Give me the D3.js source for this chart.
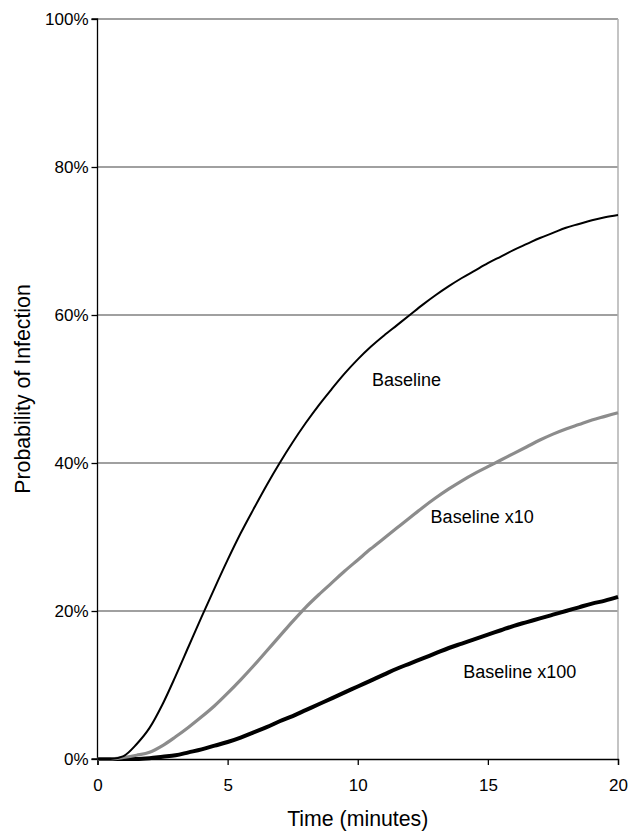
<!DOCTYPE html>
<html><head><meta charset="utf-8">
<script src="https://cdn.jsdelivr.net/npm/d3@7"></script>
<style>body{margin:0;background:#fff}svg{display:block}text{font-family:Arial,"Liberation Sans",sans-serif;fill:#000}</style>
</head><body>
<svg id="c" width="629" height="831"></svg>
<script>
const times = [0,0.5,1,1.5,2,2.5,3,3.5,4,4.5,5,5.5,6,6.5,7,7.5,8,8.5,9,9.5,10,10.5,11,11.5,12,12.5,13,13.5,14,14.5,15,15.5,16,16.5,17,17.5,18,18.5,19,19.5,20];
const baseline = [0,0,0.4,2,4.2,7.4,11.2,15.2,19.2,23.1,26.9,30.5,33.8,37,40,42.8,45.4,47.8,50,52.1,54,55.7,57.2,58.6,60,61.4,62.7,63.9,65,66,67,67.9,68.8,69.6,70.4,71.1,71.8,72.3,72.8,73.2,73.5];
const baselineX10 = [0,0,0.2,0.5,0.9,1.8,3,4.3,5.7,7.2,8.9,10.7,12.6,14.6,16.6,18.6,20.5,22.2,23.8,25.4,26.9,28.4,29.8,31.2,32.6,34,35.3,36.5,37.6,38.6,39.5,40.4,41.3,42.2,43.1,43.9,44.6,45.2,45.8,46.3,46.8];
const baselineX100 = [0,0,0,0,0.1,0.3,0.5,0.9,1.3,1.8,2.3,2.9,3.6,4.3,5.1,5.8,6.6,7.4,8.2,9,9.8,10.6,11.4,12.2,12.9,13.6,14.3,15,15.6,16.2,16.8,17.4,18,18.5,19,19.5,20,20.5,21,21.4,21.9];
const xTicks = [0,5,10,15,20];
const yTicks = [0,20,40,60,80,100];
const seriesNames = ["Baseline","Baseline x10","Baseline x100"];
const xTitle = "Time (minutes)";
const yTitle = "Probability of Infection";

const svg = d3.select("#c");
const L = 97.5, R = 618, T = 19, B = 759;
const x = d3.scaleLinear().domain([0,20]).range([L,R]);
const y = d3.scaleLinear().domain([0,100]).range([B,T]);

// gridlines
svg.append("g").selectAll("line").data(yTicks.filter(d=>d>0)).join("line")
  .attr("x1",L).attr("x2",R).attr("y1",d=>y(d)).attr("y2",d=>y(d))
  .attr("stroke","#808080").attr("stroke-width",1.3);
// right border
svg.append("line").attr("x1",R).attr("x2",R).attr("y1",T).attr("y2",B)
  .attr("stroke","#b0b0b0").attr("stroke-width",1.5);

// axes
const ya = svg.append("g").attr("transform",`translate(${L},0)`)
  .call(d3.axisLeft(y).tickValues(yTicks).tickFormat(d=>d+"%").tickSize(6).tickPadding(3));
const xa = svg.append("g").attr("transform",`translate(0,${B})`)
  .call(d3.axisBottom(x).tickValues(xTicks).tickFormat(d3.format("d")).tickSize(6).tickPadding(14));
[ya,xa].forEach(g=>{
  g.select(".domain").attr("stroke","#000").attr("stroke-width",1.3);
  g.selectAll(".tick line").attr("stroke","#000").attr("stroke-width",1.3);
  g.selectAll("text").attr("font-size",17).attr("font-family","Arial, 'Liberation Sans', sans-serif").attr("fill","#000");
});
ya.select(".domain").attr("d",`M-6,${T}H0V${B}H-6`);

// lines
const series = [
  {name:seriesNames[2], vals:baselineX100, color:"#000", w:4},
  {name:seriesNames[1], vals:baselineX10, color:"#8c8c8c", w:3.2},
  {name:seriesNames[0], vals:baseline, color:"#000", w:2}
];
const line = d3.line().x((d,i)=>x(times[i])).y(d=>y(d)).curve(d3.curveMonotoneX);
svg.append("g").selectAll("path").data(series).join("path")
  .attr("d",d=>line(d.vals)).attr("fill","none")
  .attr("stroke",d=>d.color).attr("stroke-width",d=>d.w).attr("stroke-linejoin","round");

// labels
const labels = [
  {t:seriesNames[0], tx:10.55, ty:51.2},
  {t:seriesNames[1], tx:12.8, ty:32.8},
  {t:seriesNames[2], tx:14.05, ty:11.8}
];
svg.append("g").selectAll("text").data(labels).join("text")
  .attr("x",d=>x(d.tx)).attr("y",d=>y(d.ty)).attr("font-size",18).attr("dy","0.35em").text(d=>d.t);

// titles
svg.append("text").attr("x",(L+R)/2).attr("y",826).attr("text-anchor","middle").attr("font-size",21.3).text(xTitle);
svg.append("text").attr("transform",`translate(30,${(T+B)/2}) rotate(-90)`).attr("text-anchor","middle").attr("font-size",21.3).text(yTitle);
</script>
</body></html>
